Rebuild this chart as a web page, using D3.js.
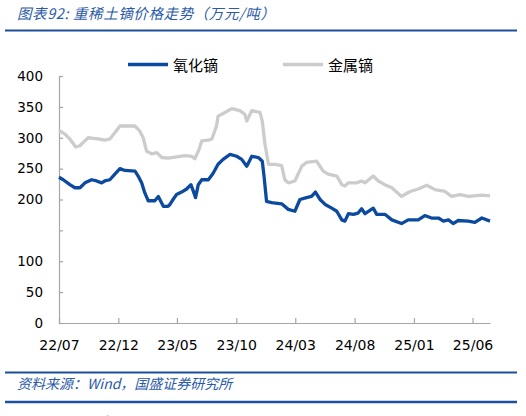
<!DOCTYPE html>
<html>
<head>
<meta charset="utf-8">
<script src="https://cdn.jsdelivr.net/npm/d3@7"></script>
<style>
  body { margin: 0; background: #fff; }
  svg { display: block; }
  .axis text { font-family: "DejaVu Sans", Verdana, sans-serif; fill: #000; }
  .axis path, .axis line { stroke: #a6a6a6; stroke-width: 1.2; }
</style>
</head>
<body>
<svg id="chart" width="526" height="416"></svg>
<script>
// 氧化镝 (dysprosium oxide), 万元/吨
const oxideDates = [
  "2022-07-01","2022-07-12","2022-07-29","2022-08-11","2022-08-24","2022-09-06","2022-09-23",
  "2022-10-06","2022-10-19","2022-10-27","2022-11-09","2022-11-22","2022-12-05","2022-12-18",
  "2023-01-13","2023-01-21","2023-01-30","2023-02-07","2023-02-16","2023-03-05","2023-03-14",
  "2023-03-27","2023-04-08","2023-04-13","2023-04-21","2023-04-30","2023-05-13","2023-05-26",
  "2023-06-06","2023-06-12","2023-06-18","2023-06-25","2023-07-04","2023-07-21","2023-08-02",
  "2023-08-15","2023-08-28","2023-09-15","2023-10-02","2023-10-15","2023-10-28","2023-11-10",
  "2023-11-27","2023-12-07","2023-12-12","2023-12-18","2023-12-31","2024-01-26","2024-02-12",
  "2024-02-29","2024-03-13","2024-03-30","2024-04-12","2024-04-22","2024-05-04","2024-05-17",
  "2024-06-03","2024-06-16","2024-06-29","2024-07-07","2024-07-16","2024-07-29","2024-08-10",
  "2024-08-19","2024-08-28","2024-09-18","2024-09-27","2024-10-18","2024-11-05","2024-11-30",
  "2024-12-17","2025-01-12","2025-01-29","2025-02-15","2025-03-05","2025-03-18","2025-03-31",
  "2025-04-12","2025-04-25","2025-05-21","2025-06-07","2025-06-25","2025-07-16"
];
const oxideValues = [
  236,232,224,219,219,227,232,
  230,227,230,232,241,250,247,
  246,238,227,211,198,198,205,
  189,189,192,200,208,212,217,
  224,214,203,224,232,232,242,
  257,265,273,270,265,254,270,
  268,262,235,197,195,193,184,
  181,200,203,205,212,200,192,
  186,181,167,165,177,176,178,
  185,177,186,176,176,167,161,
  167,167,174,170,170,165,167,
  161,166,165,163,170,165
];

// 金属镝 (dysprosium metal), 万元/吨
const metalDates = [
  "2022-07-01","2022-07-16","2022-07-29","2022-08-13","2022-08-24","2022-09-01","2022-09-14",
  "2022-09-27","2022-10-10","2022-10-27","2022-11-09","2022-11-22","2022-12-05","2023-01-13",
  "2023-01-25","2023-02-03","2023-02-12","2023-02-25","2023-03-10","2023-03-23","2023-04-08",
  "2023-05-09","2023-05-22","2023-06-08","2023-06-16","2023-06-27","2023-07-04","2023-07-21",
  "2023-07-30","2023-08-11","2023-08-15","2023-09-02","2023-09-19","2023-10-10","2023-10-23",
  "2023-10-28","2023-11-10","2023-12-01","2023-12-07","2023-12-14","2023-12-23","2024-01-09",
  "2024-01-26","2024-02-03","2024-02-12","2024-02-29","2024-03-18","2024-03-30","2024-04-25",
  "2024-05-12","2024-05-25","2024-06-16","2024-06-29","2024-07-07","2024-07-16","2024-08-06",
  "2024-08-19","2024-08-28","2024-09-18","2024-10-01","2024-10-18","2024-11-05","2024-11-30",
  "2024-12-22","2025-01-12","2025-02-03","2025-02-24","2025-03-22","2025-04-08","2025-04-30",
  "2025-05-21","2025-06-25","2025-07-16"
];
const metalValues = [
  312,306,298,285,287,292,300,
  299,298,296,298,308,319,319,
  311,300,278,274,276,268,267,
  270,271,270,266,281,295,296,
  298,319,335,341,347,344,338,
  327,344,341,327,289,257,257,
  255,232,227,230,254,260,262,
  246,241,238,224,222,227,227,
  230,227,238,230,224,219,205,
  213,217,223,216,213,205,208,
  205,207,206
];

const seriesNames = ["氧化镝", "金属镝"];
const seriesColors = ["#0b4a9e", "#cccccc"];

const xTickLabels = ["22/07","22/12","23/05","23/10","24/03","24/08","25/01","25/06"];
const yTicks = [0, 50, 100, 150, 200, 250, 300, 350, 400];
const yTickLabels = ["0", "50", "100", "", "200", "250", "300", "350", "400"];

const parseDay = d3.timeParse("%Y-%m-%d");
const parseTick = d3.timeParse("%y/%m");

const svg = d3.select("#chart");
const margin = {left: 59, right: 36, top: 76, bottom: 93};
const width = 526 - margin.left - margin.right;
const height = 416 - margin.top - margin.bottom;

const x = d3.scaleTime()
  .domain([parseDay("2022-07-01"), parseDay("2025-07-16")])
  .range([0, width]);
const y = d3.scaleLinear().domain([0, 400]).range([height, 0]);

// header / footer decorations
const blue = "#1c4f9c";
svg.append("text")
  .attr("x", 17).attr("y", 19)
  .attr("font-family", "'Noto Sans CJK SC', sans-serif")
  .attr("font-size", 14.5).attr("font-style", "italic")
  .attr("fill", "#2a5aa8")
  .attr("letter-spacing", 0.6)
  .text("图表92: 重稀土镝价格走势（万元/吨）");
svg.append("line").attr("x1", 5).attr("x2", 517).attr("y1", 30.5).attr("y2", 30.5)
  .attr("stroke", blue).attr("stroke-width", 2);
svg.append("line").attr("x1", 5).attr("x2", 517).attr("y1", 372.5).attr("y2", 372.5)
  .attr("stroke", blue).attr("stroke-width", 2);
svg.append("text")
  .attr("x", 17).attr("y", 389)
  .attr("font-family", "'Noto Sans CJK SC', sans-serif")
  .attr("font-size", 14).attr("font-style", "italic")
  .attr("fill", "#2a5aa8")
  .text("资料来源：Wind，国盛证券研究所");
svg.append("line").attr("x1", 5).attr("x2", 517).attr("y1", 402).attr("y2", 402)
  .attr("stroke", blue).attr("stroke-width", 2.5);
// page footer, only its top shows at the bottom edge
svg.append("text")
  .attr("x", 8).attr("y", 429.5)
  .attr("font-family", "'Noto Sans CJK SC', sans-serif")
  .attr("font-size", 16).attr("font-weight", "bold")
  .attr("fill", "#0b3a82")
  .text("请仔细阅读本报告末页声明");

const g = svg.append("g")
  .attr("transform", "translate(" + margin.left + "," + margin.top + ")");

// axes
g.append("g")
  .attr("class", "axis")
  .attr("transform", `translate(0, ${height})`)
  .call(d3.axisBottom(x)
    .tickValues(xTickLabels.map(parseTick))
    .tickFormat(d3.timeFormat("%y/%m"))
    .tickSizeInner(-5).tickSizeOuter(0).tickPadding(17))
  .selectAll("text").attr("font-size", 14);

g.append("g")
  .attr("class", "axis")
  .call(d3.axisLeft(y)
    .tickValues(yTicks)
    .tickFormat((d, i) => yTickLabels[i])
    .tickSizeInner(-4).tickSizeOuter(0).tickPadding(16))
  .selectAll("text").attr("font-size", 13.5);

// lines
const line = d3.line()
  .x(d => x(d.date))
  .y(d => y(d.value));

const series = [
  oxideDates.map((d, i) => ({date: parseDay(d), value: oxideValues[i]})),
  metalDates.map((d, i) => ({date: parseDay(d), value: metalValues[i]}))
];

// draw metal first so oxide sits on top
[1, 0].forEach(k => {
  g.append("path")
    .datum(series[k])
    .attr("fill", "none")
    .attr("stroke", seriesColors[k])
    .attr("stroke-width", 3.3)
    .attr("stroke-linejoin", "round")
    .attr("d", line);
});

// legend
const legendX = [128, 283];
seriesNames.forEach((name, k) => {
  svg.append("line")
    .attr("x1", legendX[k]).attr("x2", legendX[k] + 40)
    .attr("y1", 64.5).attr("y2", 64.5)
    .attr("stroke", seriesColors[k]).attr("stroke-width", 3.5);
  svg.append("text")
    .attr("x", legendX[k] + 45).attr("y", 71)
    .attr("font-family", "'Noto Sans CJK SC', sans-serif")
    .attr("font-size", 15)
    .attr("fill", "#000")
    .text(name);
});
</script>
</body>
</html>
